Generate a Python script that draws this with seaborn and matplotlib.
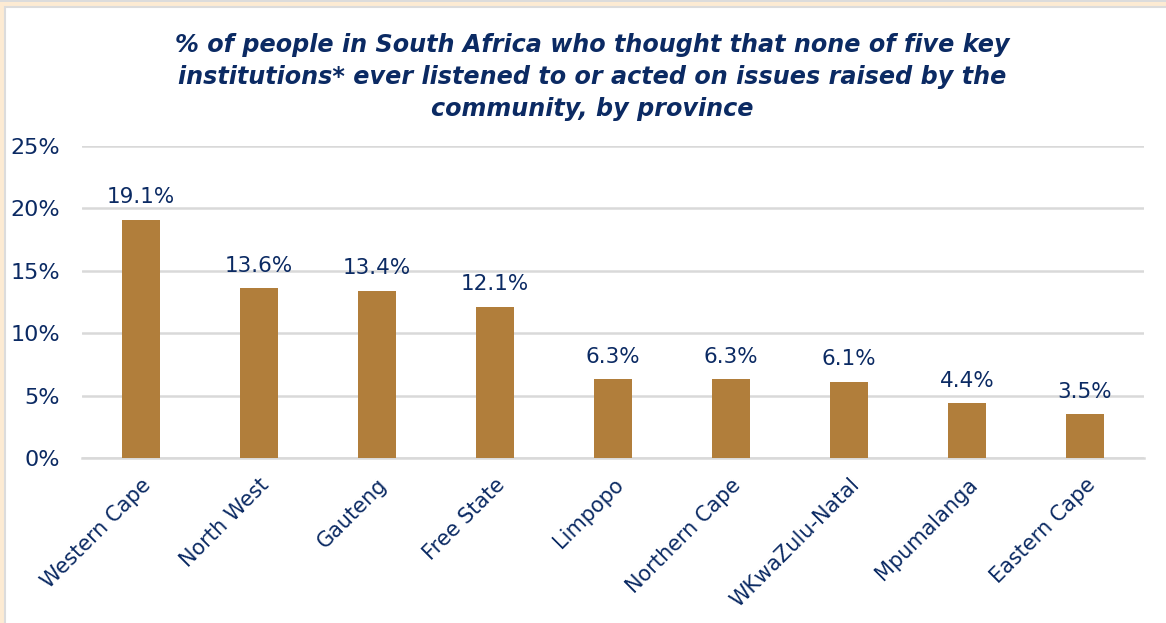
import matplotlib
matplotlib.use("Agg")
import matplotlib.pyplot as plt
from matplotlib.patches import Rectangle
import seaborn as sns
import pandas as pd

provinces = ["Western Cape", "North West", "Gauteng", "Free State", "Limpopo",
             "Northern Cape", "WKwaZulu-Natal", "Mpumalanga", "Eastern Cape"]
shares = [19.1, 13.6, 13.4, 12.1, 6.3, 6.3, 6.1, 4.4, 3.5]
y_ticks = [0, 5, 10, 15, 20, 25]
title = ("% of people in South Africa who thought that none of five key\n"
         "institutions* ever listened to or acted on issues raised by the\n"
         "community, by province")

NAVY = "#0B2A63"
BAR = "#B17E3B"
GRID = "#D9D9D9"

sns.set_theme(style="white")
plt.rcParams["font.family"] = ["DejaVu Sans"]

df = pd.DataFrame({"province": provinces, "share": shares})

fig = plt.figure(figsize=(11.66, 6.23), dpi=100)
W, H = 1166, 623

# page frame: beige strip along top and left, white panel with thin grey rule
fig.patches.append(Rectangle((0, 0), 1, 1, transform=fig.transFigure,
                             facecolor="#FDEBD3", edgecolor="none", zorder=-10))
fig.patches.append(Rectangle((0, 1 - 2 / H), 1, 2 / H, transform=fig.transFigure,
                             facecolor="#DCDCDC", edgecolor="none", zorder=-9))
fig.patches.append(Rectangle((5 / W, -0.01), 1, 1 - 7 / H + 0.01, transform=fig.transFigure,
                             facecolor="white", edgecolor="#DCDCDC", linewidth=1.5, zorder=-8))

ax = fig.add_axes([82 / W, (623 - 458) / H, (1144 - 82) / W, (458 - 146) / H])
ax.set_facecolor("none")

sns.barplot(data=df, x="province", y="share", color=BAR, width=0.32,
            saturation=1, ax=ax, zorder=3, edgecolor="none")

ax.set_ylim(0, 25)
ax.set_xlim(-0.5, len(provinces) - 0.5)
ax.set_yticks(y_ticks)
ax.set_yticklabels([f"{v}%" for v in y_ticks])
ax.yaxis.grid(True, color=GRID, linewidth=1.8, zorder=0)
ax.xaxis.grid(False)
for side in ["top", "right", "left"]:
    ax.spines[side].set_visible(False)
ax.spines["bottom"].set_color(GRID)
ax.spines["bottom"].set_linewidth(1.8)
ax.spines["bottom"].set_zorder(1)

ax.tick_params(axis="y", length=0, pad=16, labelsize=16, labelcolor=NAVY)
ax.tick_params(axis="x", length=0, pad=12, labelsize=15, labelcolor=NAVY)
for lbl in ax.get_xticklabels():
    lbl.set_rotation(45)
    lbl.set_ha("right")
    lbl.set_va("top")
    lbl.set_rotation_mode("anchor")

ax.set_xlabel("")
ax.set_ylabel("")

for i, v in enumerate(shares):
    ax.annotate(f"{v}%", xy=(i, v), xytext=(0, 9), textcoords="offset points",
                ha="center", va="bottom", fontsize=15.5, color=NAVY)

fig.text(592 / W, 1 - 33 / H, title, ha="center", va="top",
         fontsize=17.2, fontweight="bold", fontstyle="italic", color=NAVY,
         linespacing=1.41)

fig.savefig("out.png", dpi=100)
